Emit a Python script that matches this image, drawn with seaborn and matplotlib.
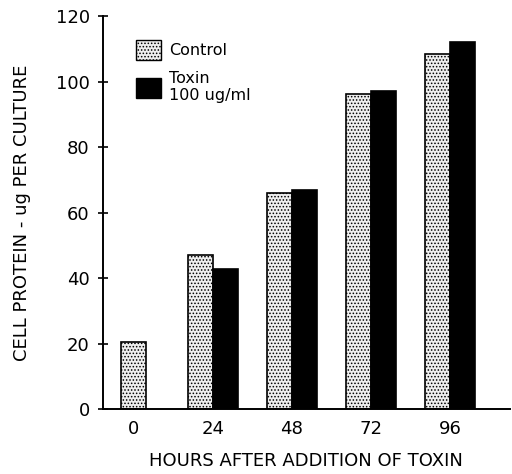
import numpy as np
import pandas as pd
import seaborn as sns
import matplotlib.pyplot as plt
from matplotlib.patches import Patch

# values (ug protein per culture)
hours = ['0', '24', '48', '72', '96']
control = [20.5, 47, 66, 96.3, 108.5]
toxin = [np.nan, 42.8, 67, 97, 112]
groups = ['Control', 'Toxin']

sns.set_style('ticks')
plt.rcParams['font.family'] = ['DejaVu Sans']
plt.rcParams['hatch.linewidth'] = 0.7
for key in ['text.color', 'axes.labelcolor', 'xtick.color', 'ytick.color',
            'axes.edgecolor']:
    plt.rcParams[key] = 'black'

long_rows = []
for h, c, t in zip(hours, control, toxin):
    long_rows.append({'hours': h, 'group': 'Control', 'protein': c})
    long_rows.append({'hours': h, 'group': 'Toxin', 'protein': t})
df = pd.DataFrame(long_rows).dropna()

# hour 0 only has a control culture, so it gets its own single bar
df_zero = df[df['hours'] == '0']
df_rest = df[df['hours'] != '0']

fig = plt.figure(figsize=(5.12, 4.74), dpi=100)
ax = fig.add_axes([0.201, 0.137, 0.795, 0.829])

sns.barplot(data=df_zero, x='hours', y='protein', order=hours,
            color='#eeeeee', width=0.315, edgecolor='black', linewidth=1.2,
            ax=ax)
sns.barplot(data=df_rest, x='hours', y='protein', order=hours,
            hue='group', hue_order=groups,
            palette={'Control': '#eeeeee', 'Toxin': 'black'},
            width=0.63, gap=0, edgecolor='black', linewidth=1.2,
            legend=False, ax=ax)

# stipple the control bars
for p in ax.patches:
    if p.get_facecolor()[0] > 0.5:
        p.set_hatch('.....')

ax.set_ylim(0, 120)
ax.set_xlim(-0.39, 4.76)
ax.set_yticks([0, 20, 40, 60, 80, 100, 120])
ax.tick_params(axis='y', direction='inout', length=7, width=1.2,
               labelsize=13, pad=6)
ax.tick_params(axis='x', length=0, labelsize=13, pad=8)
sns.despine(ax=ax)
ax.spines['left'].set_linewidth(1.4)
ax.spines['bottom'].set_linewidth(1.4)

ax.set_xlabel('HOURS AFTER ADDITION OF TOXIN', fontsize=13, labelpad=10)
ax.set_ylabel('CELL PROTEIN - ug PER CULTURE', fontsize=13, labelpad=18)

handles = [Patch(facecolor='#eeeeee', edgecolor='black', hatch='.....',
                 label='Control'),
           Patch(facecolor='black', edgecolor='black',
                 label='Toxin\n100 ug/ml')]
ax.legend(handles=handles, loc='upper left', bbox_to_anchor=(0.045, 0.975),
          frameon=False, fontsize=11.5, handlelength=1.6, handleheight=1.5,
          handletextpad=0.5, labelspacing=0.7)

fig.savefig('out.png', dpi=100)
